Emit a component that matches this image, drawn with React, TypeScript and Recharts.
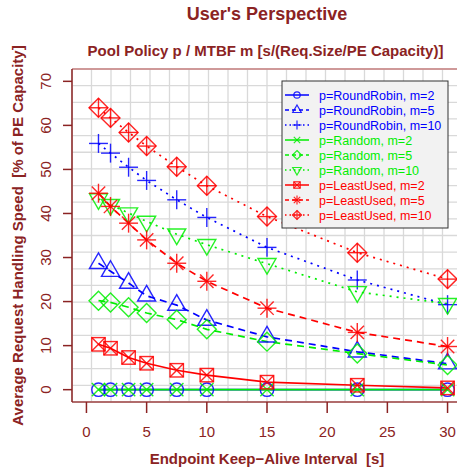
import React from 'react';
import { LineChart, Line, XAxis, YAxis, CartesianGrid, ReferenceLine } from 'recharts';

// ---------- data ----------
const keepAlive = [1, 2, 3.5, 5, 7.5, 10, 15, 22.5, 30];
const rrM2 = [0, 0, 0, 0, 0, 0, 0, 0, 0];
const rrM5 = [28.7, 26.9, 24.2, 21.3, 19.2, 15.8, 12.0, 8.6, 5.9];
const rrM10 = [55.9, 53.7, 50.5, 47.5, 43.1, 39.1, 32.3, 24.9, 19.3];
const rndM2 = [0, 0, 0, 0, 0, 0, 0, 0, 0];
const rndM5 = [20.2, 19.8, 18.7, 17.4, 15.9, 13.7, 10.9, 8.2, 5.6];
const rndM10 = [43.3, 42.0, 40.1, 38.2, 35.3, 32.9, 28.6, 22.2, 19.5];
const luM2 = [10.3, 9.4, 7.3, 6.0, 4.4, 3.3, 1.7, 1.0, 0.4];
const luM5 = [44.6, 41.6, 37.8, 34.0, 28.7, 24.6, 18.5, 13.0, 9.8];
const luM10 = [64.0, 61.7, 58.4, 55.3, 50.6, 46.3, 39.3, 31.1, 25.1];

const xTicks = [0, 5, 10, 15, 20, 25, 30];
const yTicks = [0, 10, 20, 30, 40, 50, 60, 70];

const titleText = "User's Perspective";
const subtitleText = 'Pool Policy p / MTBF m [s/(Req.Size/PE Capacity)]';
const xTitle = 'Endpoint Keep\u2212Alive Interval  [s]';
const yTitle = 'Average Request Handling Speed  [% of PE Capacity]';

const BLUE = '#0000ff';
const GREEN = '#00ee00';
const RED = '#ff0000';
const BROWN = '#8b2323';
const FONT = '"Liberation Sans", Arial, Helvetica, sans-serif';

const SOLID = undefined;
const DASHED = '7 5';
const DOTTED = '2 5';

const series = [
  { key: 'rrM2', name: 'p=RoundRobin, m=2', values: rrM2, color: BLUE, pch: 1, dash: SOLID },
  { key: 'rrM5', name: 'p=RoundRobin, m=5', values: rrM5, color: BLUE, pch: 2, dash: DASHED },
  { key: 'rrM10', name: 'p=RoundRobin, m=10', values: rrM10, color: BLUE, pch: 3, dash: DOTTED },
  { key: 'rndM2', name: 'p=Random, m=2', values: rndM2, color: GREEN, pch: 4, dash: SOLID },
  { key: 'rndM5', name: 'p=Random, m=5', values: rndM5, color: GREEN, pch: 5, dash: DASHED },
  { key: 'rndM10', name: 'p=Random, m=10', values: rndM10, color: GREEN, pch: 6, dash: DOTTED },
  { key: 'luM2', name: 'p=LeastUsed, m=2', values: luM2, color: RED, pch: 7, dash: SOLID },
  { key: 'luM5', name: 'p=LeastUsed, m=5', values: luM5, color: RED, pch: 8, dash: DASHED },
  { key: 'luM10', name: 'p=LeastUsed, m=10', values: luM10, color: RED, pch: 9, dash: DOTTED },
];

const rows = keepAlive.map((x, i) => {
  const row: Record<string, number> = { x };
  series.forEach((s) => {
    row[s.key] = s.values[i];
  });
  return row;
});

// ---------- R-like point symbols ----------
function Marker({ pch, cx, cy, r, color, sw }: { pch: number; cx: number; cy: number; r: number; color: string; sw: number }) {
  const q = Math.SQRT2 * r;
  const common = { stroke: color, strokeWidth: sw, fill: 'none', strokeOpacity: 0.85 };
  const tr0 = 1.5551 * r;
  const tr1 = 1.3468 * r;
  const tr2 = 0.7776 * r;
  const xLines = (
    <>
      <line x1={cx - r} y1={cy - r} x2={cx + r} y2={cy + r} {...common} />
      <line x1={cx - r} y1={cy + r} x2={cx + r} y2={cy - r} {...common} />
    </>
  );
  const plusLines = (
    <>
      <line x1={cx - q} y1={cy} x2={cx + q} y2={cy} {...common} />
      <line x1={cx} y1={cy - q} x2={cx} y2={cy + q} {...common} />
    </>
  );
  const diamond = <polygon points={`${cx},${cy - q} ${cx + q},${cy} ${cx},${cy + q} ${cx - q},${cy}`} {...common} />;
  switch (pch) {
    case 1:
      return <circle cx={cx} cy={cy} r={r} {...common} />;
    case 2:
      return <polygon points={`${cx},${cy - tr0} ${cx + tr1},${cy + tr2} ${cx - tr1},${cy + tr2}`} {...common} />;
    case 3:
      return <g>{plusLines}</g>;
    case 4:
      return <g>{xLines}</g>;
    case 5:
      return diamond;
    case 6:
      return <polygon points={`${cx},${cy + tr0} ${cx + tr1},${cy - tr2} ${cx - tr1},${cy - tr2}`} {...common} />;
    case 7:
      return (
        <g>
          <rect x={cx - r} y={cy - r} width={2 * r} height={2 * r} {...common} />
          {xLines}
        </g>
      );
    case 8:
      return (
        <g>
          {xLines}
          {plusLines}
        </g>
      );
    case 9:
      return (
        <g>
          {diamond}
          {plusLines}
        </g>
      );
    default:
      return null;
  }
}

const YTick = (props: any) => {
  const { x, y, payload } = props;
  return (
    <g transform={`translate(${x - 12.5}, ${y}) rotate(-90)`}>
      <text x={0} y={0} textAnchor="middle" fill={BROWN} fontSize={15} fontFamily={FONT}>
        {payload.value}
      </text>
    </g>
  );
};

const pre = { whiteSpace: 'pre' as const };

function Overlay() {
  const boxX = 282;
  const boxY = 81;
  const rowY0 = 95;
  const rowStep = 15;
  return (
    <svg width={457} height={472} style={{ position: 'absolute', left: 0, top: 0, pointerEvents: 'none' }}>
      <text x={267} y={19.5} textAnchor="middle" fontSize={18} fontWeight="bold" fill={BROWN} fontFamily={FONT} style={pre}>
        {titleText}
      </text>
      <text x={265.5} y={56} textAnchor="middle" fontSize={15} fontWeight="bold" fill={BROWN} fontFamily={FONT} style={pre}>
        {subtitleText}
      </text>
      <text x={267} y={464} textAnchor="middle" fontSize={15} fontWeight="bold" fill={BROWN} fontFamily={FONT} style={pre}>
        {xTitle}
      </text>
      <g transform="translate(23, 235.5) rotate(-90)">
        <text x={0} y={0} textAnchor="middle" fontSize={15} fontWeight="bold" fill={BROWN} fontFamily={FONT} style={pre}>
          {yTitle}
        </text>
      </g>
      <rect x={boxX} y={boxY} width={166} height={147} fill="#f2f2f2" stroke="#333" strokeWidth={1} />
      {series.map((s, i) => {
        const cy = rowY0 + i * rowStep;
        return (
          <g key={s.key}>
            <line x1={285} y1={cy} x2={309} y2={cy} stroke={s.color} strokeWidth={1.5} strokeDasharray={s.dash ? (s.dash === DASHED ? '4 3' : '1.5 3') : undefined} />
            <Marker pch={s.pch} cx={297} cy={cy} r={3.2} color={s.color} sw={1.2} />
            <text x={319} y={cy + 4.5} fontSize={12.5} fill={s.color} fontFamily={FONT}>
              {s.name}
            </text>
          </g>
        );
      })}
    </svg>
  );
}

export default function App() {
  return (
    <div style={{ position: 'fixed', left: 0, top: 0, width: 457, height: 472, overflow: 'hidden', background: '#fff' }}>
      <LineChart width={480} height={472} data={rows} margin={{ top: 69, right: 18, bottom: 0, left: 0 }}>
        <CartesianGrid
          stroke="#d9d9d9"
          strokeWidth={1.3}
          horizontalCoordinatesGenerator={({ offset }: any) =>
            Array.from({ length: 21 }, (_, k) => offset.top + (k * offset.height) / 20)
          }
          verticalCoordinatesGenerator={({ offset }: any) =>
            Array.from({ length: 21 }, (_, k) => offset.left + (k * offset.width) / 20)
          }
        />
        <XAxis
          type="number"
          dataKey="x"
          domain={[-1.2, 31.2]}
          ticks={xTicks}
          allowDataOverflow
          height={70}
          tickSize={11}
          tickMargin={13}
          axisLine={{ stroke: '#a04444', strokeWidth: 1.5 }}
          tickLine={{ stroke: BROWN, strokeWidth: 1.5 }}
          tick={{ fill: BROWN, fontSize: 15, fontFamily: FONT }}
        />
        <YAxis
          type="number"
          domain={[-2.8, 72.8]}
          ticks={yTicks}
          allowDataOverflow
          width={72}
          tickSize={9}
          tickMargin={0}
          axisLine={{ stroke: BROWN, strokeWidth: 1.5 }}
          tickLine={{ stroke: BROWN, strokeWidth: 1.5 }}
          tick={<YTick />}
        />
        <ReferenceLine y={72.8} stroke="#c88080" strokeWidth={1.5} />
        {series.map((s) => (
          <Line
            key={s.key}
            type="linear"
            dataKey={s.key}
            stroke={s.color}
            strokeWidth={1.7}
            strokeDasharray={s.dash}
            isAnimationActive={false}
            dot={(p: any) => (
              <Marker key={`${s.key}-${p.index}`} pch={s.pch} cx={p.cx} cy={p.cy} r={6.7} color={s.color} sw={1.4} />
            )}
          />
        ))}
      </LineChart>
      <Overlay />
    </div>
  );
}
